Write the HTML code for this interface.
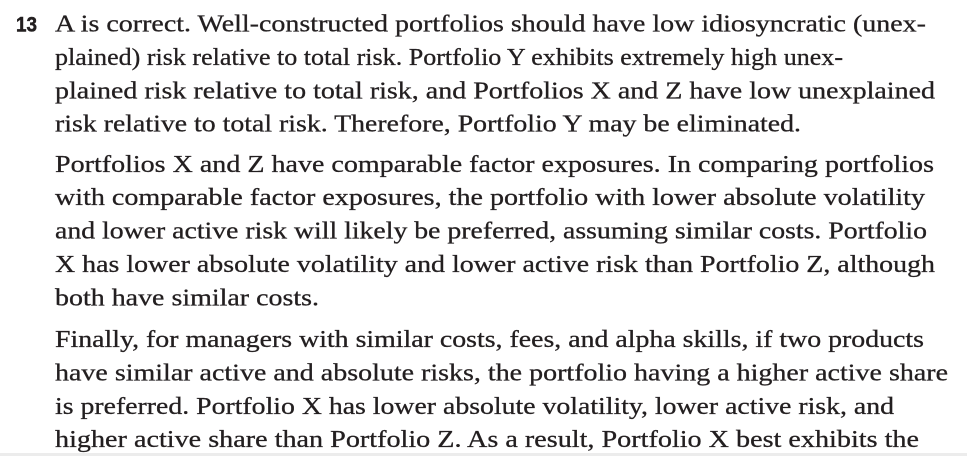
<!DOCTYPE html>
<html>
<head>
<meta charset="utf-8">
<style>
  html, body { margin: 0; padding: 0; background: #ffffff; }
  body { width: 967px; height: 456px; overflow: hidden; position: relative; }
  svg { display: block; }
  .t { font-family: "Liberation Serif", "Times New Roman", serif; font-size: 24.5px; fill: #231f20; stroke: #231f20; stroke-width: 0.3px; }
  .n { font-family: "Liberation Sans", Arial, sans-serif; font-size: 21px; font-weight: bold; fill: #231f20; stroke: #231f20; stroke-width: 0.5px; }
</style>
</head>
<body>
<svg width="967" height="456" viewBox="0 0 967 456" xmlns="http://www.w3.org/2000/svg">
  <rect x="0" y="0" width="967" height="456" fill="#ffffff"/>
  <rect x="0" y="453" width="967" height="3" fill="#ececec"/>

  <text class="n" x="16" y="31.5" textLength="21" lengthAdjust="spacingAndGlyphs">13</text>

  <text class="t" x="55" y="31.5" textLength="871" lengthAdjust="spacingAndGlyphs">A is correct. Well-constructed portfolios should have low idiosyncratic (unex-</text>
  <text class="t" x="55" y="64.9" textLength="788" lengthAdjust="spacingAndGlyphs">plained) risk relative to total risk. Portfolio Y exhibits extremely high unex-</text>
  <text class="t" x="55" y="98.3" textLength="880" lengthAdjust="spacingAndGlyphs">plained risk relative to total risk, and Portfolios X and Z have low unexplained</text>
  <text class="t" x="55" y="131.7" textLength="746" lengthAdjust="spacingAndGlyphs">risk relative to total risk. Therefore, Portfolio Y may be eliminated.</text>

  <text class="t" x="55" y="171.8" textLength="879" lengthAdjust="spacingAndGlyphs">Portfolios X and Z have comparable factor exposures. In comparing portfolios</text>
  <text class="t" x="55" y="205.2" textLength="870" lengthAdjust="spacingAndGlyphs">with comparable factor exposures, the portfolio with lower absolute volatility</text>
  <text class="t" x="55" y="238.6" textLength="872" lengthAdjust="spacingAndGlyphs">and lower active risk will likely be preferred, assuming similar costs. Portfolio</text>
  <text class="t" x="55" y="272" textLength="880" lengthAdjust="spacingAndGlyphs">X has lower absolute volatility and lower active risk than Portfolio Z, although</text>
  <text class="t" x="55" y="305.4" textLength="264" lengthAdjust="spacingAndGlyphs">both have similar costs.</text>

  <text class="t" x="55" y="347" textLength="869" lengthAdjust="spacingAndGlyphs">Finally, for managers with similar costs, fees, and alpha skills, if two products</text>
  <text class="t" x="55" y="380.4" textLength="893" lengthAdjust="spacingAndGlyphs">have similar active and absolute risks, the portfolio having a higher active share</text>
  <text class="t" x="55" y="413.8" textLength="839" lengthAdjust="spacingAndGlyphs">is preferred. Portfolio X has lower absolute volatility, lower active risk, and</text>
  <text class="t" x="55" y="447.2" textLength="864" lengthAdjust="spacingAndGlyphs">higher active share than Portfolio Z. As a result, Portfolio X best exhibits the</text>
</svg>
</body>
</html>
